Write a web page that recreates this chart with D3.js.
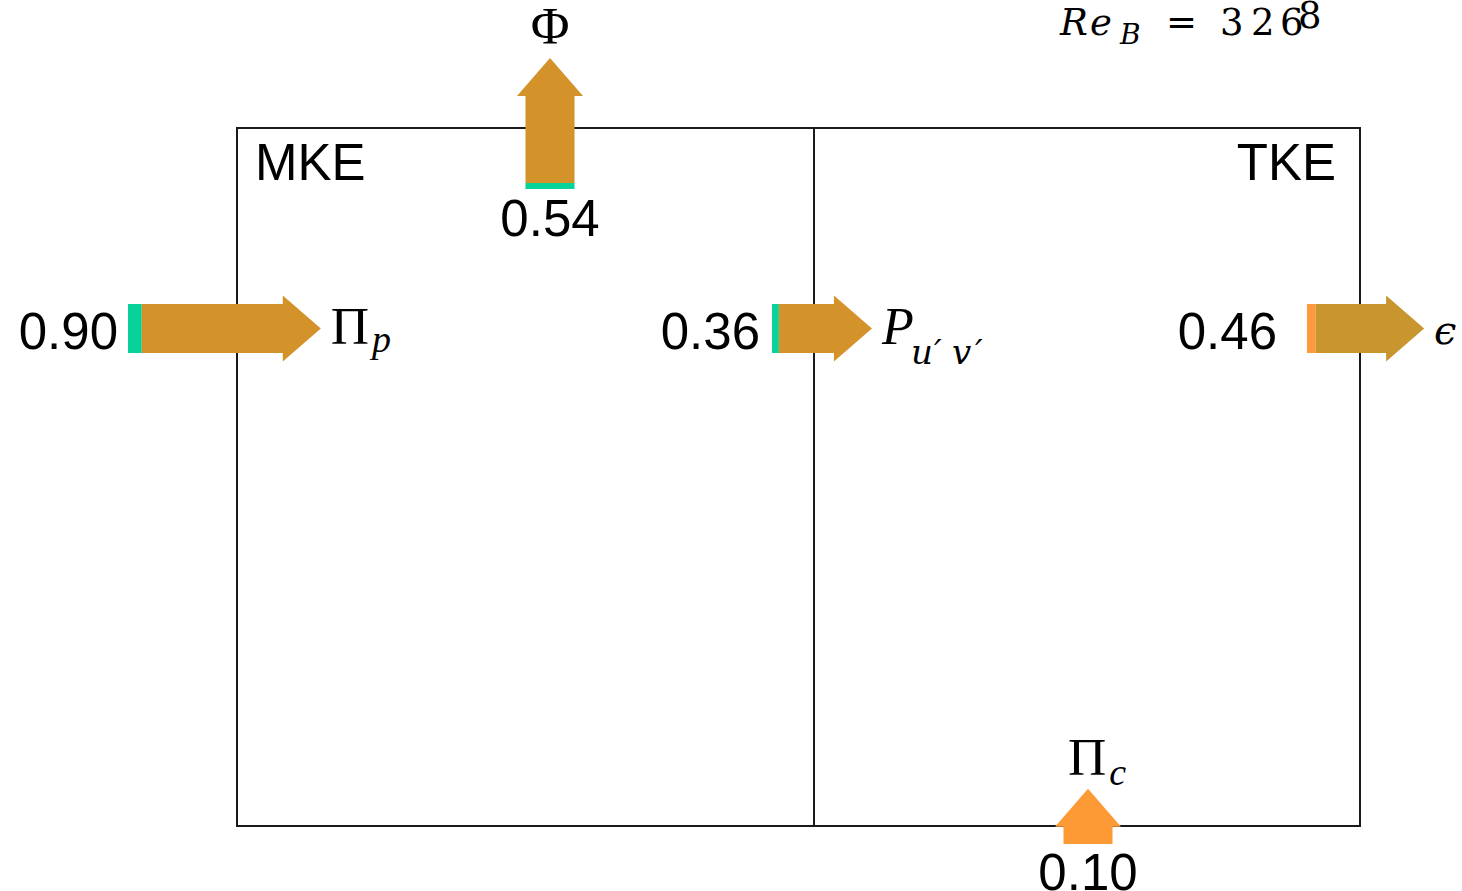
<!DOCTYPE html>
<html>
<head>
<meta charset="utf-8">
<script src="https://cdn.jsdelivr.net/npm/d3@7"></script>
<style>
  html, body { margin: 0; padding: 0; background: #fff; }
  svg { display: block; }
</style>
</head>
<body>
<svg id="chart" width="1462" height="891"></svg>
<script>
// Energy budget terms (normalised), one arrow per term
const symbols  = ["Π", "Φ", "P", "ϵ", "Π"];
const subs     = ["p", "", "u′v′", "", "c"];
const values   = [0.90, 0.54, 0.36, 0.46, 0.10];
// share of each flux carried over from the companion case (tail strip)
const tails    = [0.08, 0.035, 0.04, 0.05, 0.0];
const groups   = ["MKE", "MKE", "MKE", "TKE", "TKE"];
const boxNames = ["MKE", "TKE"];
const reynolds = "326";

const svg = d3.select("#chart");
const W = 1462, H = 891;

// arrow length scale (flux -> pixels)
const len = d3.scaleLinear().domain([0, 1]).range([0, 172]);

const tailColor = d3.scaleOrdinal().domain(["MKE", "TKE"]).range(["#06d29a", "#ff9b3a"]);
const bodyColor = ["#d3922a", "#d3922a", "#d3922a", "#c8952e", "#fe9a36"];

// box geometry
const box = { left: 237, right: 1360, top: 128, bottom: 826, mid: 814 };

svg.append("rect").attr("width", W).attr("height", H).attr("fill", "#fff");

const frame = svg.append("g").attr("fill", "none").attr("stroke", "#1a1a1a").attr("stroke-width", 2);
frame.append("rect")
  .attr("x", box.left).attr("y", box.top)
  .attr("width", box.right - box.left).attr("height", box.bottom - box.top);
frame.append("line")
  .attr("x1", box.mid).attr("x2", box.mid).attr("y1", box.top).attr("y2", box.bottom);

// box titles
svg.append("g").selectAll("text").data(boxNames).join("text")
  .attr("x", (d, i) => i === 0 ? 255 : 1336)
  .attr("y", 180)
  .attr("text-anchor", (d, i) => i === 0 ? "start" : "end")
  .attr("font-family", "Liberation Sans, Arial, sans-serif")
  .attr("font-size", 51)
  .attr("fill", "#000")
  .text(d => d);

// arrow placement: direction, tail anchor and the cross-axis centre
const layout = [
  { dir: "right", anchor: 128,  c: 328.5, labelGap: 10 },
  { dir: "up",    anchor: 189,  c: 550,   labelGap: 47 },
  { dir: "right", anchor: 772,  c: 328.5, labelGap: 12 },
  { dir: "right", anchor: 1307, c: 328.5, labelGap: 30 },
  { dir: "up",    anchor: 844,  c: 1088,  labelGap: 46 }
];

const shaftW = 49, headW = 66, headL = 38;

const arrows = values.map((v, i) => ({
  value: v, share: tails[i], group: groups[i], sym: symbols[i], sub: subs[i],
  body: bodyColor[i], ...layout[i]
}));

// arrow outline in local coords: x along the flow (0 = tail), y across it
function arrowPath(total, s0) {
  const p = d3.path();
  const hs = shaftW / 2, hh = headW / 2;
  p.moveTo(s0, -hs);
  p.lineTo(total, -hs);
  p.lineTo(total, -hh);
  p.lineTo(total + headL, 0);
  p.lineTo(total, hh);
  p.lineTo(total, hs);
  p.lineTo(s0, hs);
  p.closePath();
  return p.toString();
}

const g = svg.append("g");
arrows.forEach(a => {
  const total = len(a.value);
  const strip = len(a.share);
  const tr = a.dir === "right"
    ? `translate(${a.anchor},${a.c})`
    : `translate(${a.c},${a.anchor}) rotate(-90)`;
  const ag = g.append("g").attr("transform", tr);
  if (strip > 0) {
    ag.append("rect")
      .attr("x", 0).attr("y", -shaftW / 2)
      .attr("width", strip).attr("height", shaftW)
      .attr("fill", tailColor(a.group));
  }
  ag.append("path")
    .attr("d", arrowPath(total, strip))
    .attr("fill", a.body);
  a.tip = total + headL;
});

const sans = "Liberation Sans, Arial, sans-serif";
const serif = "Liberation Serif, Times New Roman, serif";
const mathFont = "DejaVu Serif, serif";

// value labels
arrows.forEach(a => {
  const t = svg.append("text")
    .attr("font-family", sans).attr("font-size", 51).attr("fill", "#000")
    .text(a.value.toFixed(2));
  if (a.dir === "right") {
    t.attr("x", a.anchor - a.labelGap).attr("y", a.c + 20).attr("text-anchor", "end");
  } else {
    t.attr("x", a.c).attr("y", a.anchor + a.labelGap).attr("text-anchor", "middle");
  }
});

// term symbols with subscripts
const subDrop = { "p": 8, "u′v′": 20, "c": 10 };
arrows.forEach(a => {
  const t = svg.append("text").attr("font-family", serif).attr("fill", "#000");
  const isEps = a.sym === "ϵ";
  const isLatin = a.sym === "P";
  let x, y;
  if (a.dir === "right") {
    x = a.anchor + a.tip + 10; y = a.c + 15;
  } else {
    x = a.sub ? a.c - 20 : a.c; y = a.anchor - a.tip - 14;
    if (!a.sub) t.attr("text-anchor", "middle");
  }
  t.attr("x", x).attr("y", y);
  t.append("tspan")
    .attr("font-size", isEps ? 40 : (isLatin ? 52 : 53))
    .attr("font-style", (isEps || isLatin) ? "italic" : "normal")
    .attr("font-family", isEps ? mathFont : serif)
    .text(a.sym);
  if (a.sub) {
    const s = t.append("tspan")
      .attr("font-style", "italic")
      .attr("dy", subDrop[a.sub]);
    if (a.sub === "u′v′") {
      // spread the primed pair out as typeset maths does
      s.attr("font-family", mathFont).attr("font-size", 34)
        .attr("x", [x + 29, x + 52, x + 70, x + 93].join(" "));
    } else {
      s.attr("font-size", 38).attr("dx", 3);
    }
    s.text(a.sub);
  }
});

// Reynolds number annotation
const re = svg.append("text")
  .attr("y", 35)
  .attr("font-family", mathFont).attr("font-size", 37).attr("fill", "#000");
re.append("tspan").attr("x", "1060 1090").attr("font-style", "italic").text("Re");
re.append("tspan").attr("x", 1120).attr("font-style", "italic").attr("font-size", 28).attr("dy", 9).text("B");
re.append("tspan").attr("x", 1166).attr("dy", -9).text("=");
re.append("tspan").attr("x", "1220 1251 1280").text(reynolds);
svg.append("text")
  .attr("x", 1298).attr("y", 28)
  .attr("font-family", mathFont).attr("font-size", 37).attr("fill", "#000")
  .text("8");
</script>
</body>
</html>
